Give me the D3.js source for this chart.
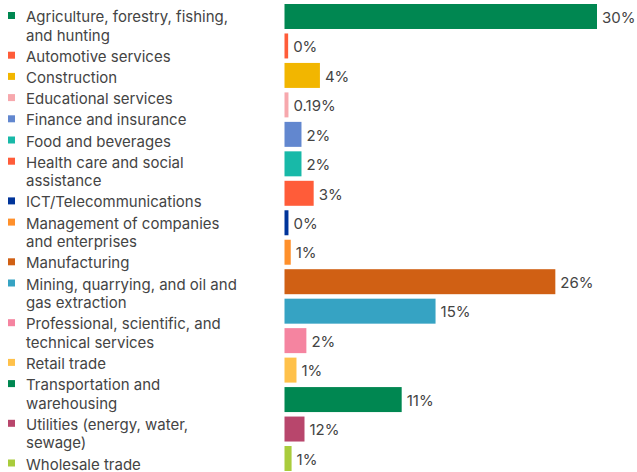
<!DOCTYPE html>
<html>
<head>
<meta charset="utf-8">
<script src="https://cdn.jsdelivr.net/npm/d3@7"></script>
<style>
	html, body { margin: 0; padding: 0; background: #fff; }
	svg { display: block; font-family: Inter, "Noto Sans", sans-serif; }
</style>
</head>
<body>
<div id="chart"></div>
<script>
//////////////////////////// data /////////////////////////////////////////

const categories = [
	"Agriculture, forestry, fishing, and hunting",
	"Automotive services",
	"Construction",
	"Educational services",
	"Finance and insurance",
	"Food and beverages",
	"Health care and social assistance",
	"ICT/Telecommunications",
	"Management of companies and enterprises",
	"Manufacturing",
	"Mining, quarrying, and oil and gas extraction",
	"Professional, scientific, and technical services",
	"Retail trade",
	"Transportation and warehousing",
	"Utilities (energy, water, sewage)",
	"Wholesale trade"
];

// legend text as it breaks in the original
const legendLines = [
	["Agriculture, forestry, fishing,", "and hunting"],
	["Automotive services"],
	["Construction"],
	["Educational services"],
	["Finance and insurance"],
	["Food and beverages"],
	["Health care and social", "assistance"],
	["ICT/Telecommunications"],
	["Management of companies", "and enterprises"],
	["Manufacturing"],
	["Mining, quarrying, and oil and", "gas extraction"],
	["Professional, scientific, and", "technical services"],
	["Retail trade"],
	["Transportation and", "warehousing"],
	["Utilities (energy, water,", "sewage)"],
	["Wholesale trade"]
];

// bar lengths as drawn (they do not always follow the printed labels)
const barValues = [30, 0.35, 3.4, 0.38, 1.63, 1.63, 2.8, 0.38, 0.6, 26, 14.5, 2.1, 1.15, 11.25, 1.92, 0.68];

const valueLabels = ["30%", "0%", "4%", "0.19%", "2%", "2%", "3%", "0%", "1%", "26%", "15%", "2%", "1%", "11%", "12%", "1%"];

const colors = [
	"#008751", "#ff5c39", "#f2b600", "#f7a8ad", "#6287cf", "#18b9a8", "#ff5c39", "#00349a",
	"#ff902b", "#d06014", "#36a3c3", "#f584a0", "#ffc14a", "#008751", "#b8466c", "#a9cc3c"
];

//////////////////////////// sizes ///////////////////////////////////////

const width = 637;
const height = 472;
const barLeft = 284.5;

const svg = d3.select("#chart").append("svg")
	.attr("width", width)
	.attr("height", height);

//////////////////////////// scales ///////////////////////////////////////

const xScale = d3.scaleLinear()
	.domain([0, 30])
	.range([barLeft, 597]);

const yScale = d3.scaleBand()
	.domain(categories)
	.range([4, 471])
	.paddingInner(0.152)
	.paddingOuter(0);

const rows = categories.map((c, i) => ({
	cat: c,
	val: barValues[i],
	lab: valueLabels[i],
	color: colors[i],
	lines: legendLines[i]
}));

//////////////////////////// bars /////////////////////////////////////////

svg.append("g")
	.selectAll("rect")
	.data(rows)
	.join("rect")
	.attr("x", xScale(0))
	.attr("y", (d) => yScale(d.cat))
	.attr("width", (d) => xScale(d.val) - xScale(0))
	.attr("height", yScale.bandwidth())
	.attr("fill", (d) => d.color);

svg.append("g")
	.selectAll("text")
	.data(rows)
	.join("text")
	.attr("x", (d) => xScale(d.val) + 5)
	.attr("y", (d) => yScale(d.cat) + yScale.bandwidth() / 2 + 1)
	.attr("dy", "0.35em")
	.attr("font-size", 15)
	.attr("fill", "#444")
	.text((d) => d.lab);

//////////////////////////// legend ///////////////////////////////////////

const lineH = 18.5;
const itemGap = 21.2;
let yPos = 22;
rows.forEach((d) => {
	d.ly = yPos;
	yPos += (d.lines.length - 1) * lineH + itemGap;
});

const legend = svg.append("g")
	.selectAll("g")
	.data(rows)
	.join("g")
	.attr("transform", (d) => `translate(0,${d.ly})`);

legend.append("rect")
	.attr("x", 8)
	.attr("y", -10)
	.attr("width", 7)
	.attr("height", 7)
	.attr("fill", (d) => d.color);

legend.append("text")
	.attr("x", 26)
	.attr("font-size", 15)
	.attr("fill", "#444")
	.selectAll("tspan")
	.data((d) => d.lines)
	.join("tspan")
	.attr("x", 26)
	.attr("dy", (l, i) => (i === 0 ? 0 : lineH))
	.text((l) => l);
</script>
</body>
</html>
